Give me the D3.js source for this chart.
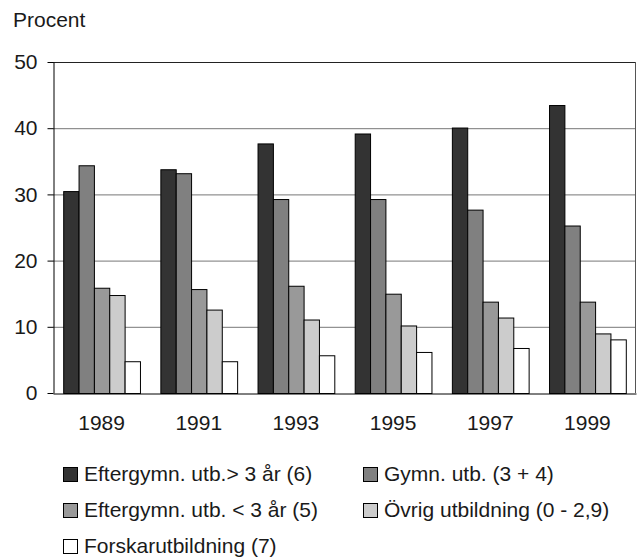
<!DOCTYPE html>
<html>
<head>
<meta charset="utf-8">
<script src="https://cdn.jsdelivr.net/npm/d3@7"></script>
<style>
  body { margin: 0; background: #fff; }
  text { font-family: "Liberation Sans", Arial, sans-serif; fill: #1a1a1a; }
</style>
</head>
<body>
<div id="chart-area"></div>
<script>
// Data
var years = ["1989", "1991", "1993", "1995", "1997", "1999"];
var seriesNames = [
    "Eftergymn. utb.> 3 år (6)",
    "Gymn. utb. (3 + 4)",
    "Eftergymn. utb. < 3 år (5)",
    "Övrig utbildning (0 - 2,9)",
    "Forskarutbildning (7)"
];
var eftergymnLang = [30.5, 33.8, 37.7, 39.2, 40.1, 43.5];
var gymn          = [34.4, 33.2, 29.3, 29.3, 27.7, 25.3];
var eftergymnKort = [15.9, 15.7, 16.2, 15.0, 13.8, 13.8];
var ovrig         = [14.8, 12.6, 11.1, 10.2, 11.4, 9.0];
var forskar       = [4.8, 4.8, 5.7, 6.2, 6.8, 8.1];
var yTicks = [0, 10, 20, 30, 40, 50];

var seriesValues = [eftergymnLang, gymn, eftergymnKort, ovrig, forskar];
var colors = ["#333333", "#808080", "#999999", "#cccccc", "#ffffff"];

var width = 637, height = 560;
var plot = { left: 53, right: 636, top: 62, bottom: 393 };

var svg = d3.select("#chart-area").append("svg")
    .attr("width", width)
    .attr("height", height);

// Scales
var x0 = d3.scaleBand()
    .domain(years)
    .range([plot.left, plot.right])
    .paddingInner(0.21)
    .paddingOuter(0.105);

var x1 = d3.scaleBand()
    .domain(d3.range(seriesNames.length))
    .range([0, x0.bandwidth()]);

var y = d3.scaleLinear()
    .domain([0, 50])
    .range([plot.bottom, plot.top]);

// Gridlines
svg.append("g")
    .selectAll("line")
    .data(yTicks.filter(function(d) { return d > 0 && d < 50; }))
    .enter().append("line")
    .attr("x1", plot.left)
    .attr("x2", plot.right)
    .attr("y1", function(d) { return y(d) + 0.5; })
    .attr("y2", function(d) { return y(d) + 0.5; })
    .attr("stroke", "#777")
    .attr("stroke-width", 1);

// Frame top + right
svg.append("line")
    .attr("x1", plot.left).attr("x2", plot.right)
    .attr("y1", y(50) + 0.5).attr("y2", y(50) + 0.5)
    .attr("stroke", "#222");
svg.append("line")
    .attr("x1", plot.right - 0.5).attr("x2", plot.right - 0.5)
    .attr("y1", y(50)).attr("y2", plot.bottom)
    .attr("stroke", "#555");

// Bars
var table = years.map(function(yr, i) {
    return { year: yr, values: seriesValues.map(function(s) { return s[i]; }) };
});

var groups = svg.append("g")
    .selectAll("g")
    .data(table)
    .enter().append("g")
    .attr("transform", function(d) { return "translate(" + x0(d.year) + ",0)"; });

groups.selectAll("rect")
    .data(function(d) { return d.values.map(function(v, k) { return { k: k, v: v }; }); })
    .enter().append("rect")
    .attr("x", function(d) { return x1(d.k) + 0.5; })
    .attr("y", function(d) { return y(d.v) + 0.5; })
    .attr("width", x1.bandwidth())
    .attr("height", function(d) { return plot.bottom - y(d.v); })
    .attr("fill", function(d) { return colors[d.k]; })
    .attr("stroke", "#000")
    .attr("stroke-width", 1);

// Y axis
var yAxis = svg.append("g")
    .attr("transform", "translate(" + (plot.left + 0.5) + ",0)")
    .call(d3.axisLeft(y).tickValues(yTicks).tickSize(6).tickPadding(10).tickSizeOuter(0));
yAxis.select(".domain").attr("stroke", "#000");
yAxis.selectAll(".tick line").attr("stroke", "#000");
yAxis.selectAll("text")
    .attr("font-size", "21px")
    .attr("font-family", "Liberation Sans, Arial, sans-serif")
    .attr("fill", "#1a1a1a");

// X axis (baseline, no ticks)
var xAxis = svg.append("g")
    .attr("transform", "translate(0," + (plot.bottom + 0.5) + ")")
    .call(d3.axisBottom(x0).tickSize(0).tickPadding(22));
xAxis.select(".domain").attr("stroke", "#000");
xAxis.selectAll("text")
    .attr("font-size", "21px")
    .attr("font-family", "Liberation Sans, Arial, sans-serif")
    .attr("fill", "#1a1a1a");

// Y label
svg.append("text")
    .attr("x", 13)
    .attr("y", 27)
    .attr("font-size", "21px")
    .text("Procent");

// Legend
var legendCols = [63, 363];
var legendRows = [467, 503, 539];

var legend = svg.append("g")
    .selectAll("g")
    .data(seriesNames)
    .enter().append("g")
    .attr("transform", function(d, i) {
        return "translate(" + legendCols[i % 2] + "," + legendRows[Math.floor(i / 2)] + ")";
    });

legend.append("rect")
    .attr("x", 0.5)
    .attr("y", 0.5)
    .attr("width", 14)
    .attr("height", 14)
    .attr("fill", function(d, i) { return colors[i]; })
    .attr("stroke", "#000");

legend.append("text")
    .attr("x", 21)
    .attr("y", 13.5)
    .attr("font-size", "21px")
    .text(function(d) { return d; });
</script>
</body>
</html>
